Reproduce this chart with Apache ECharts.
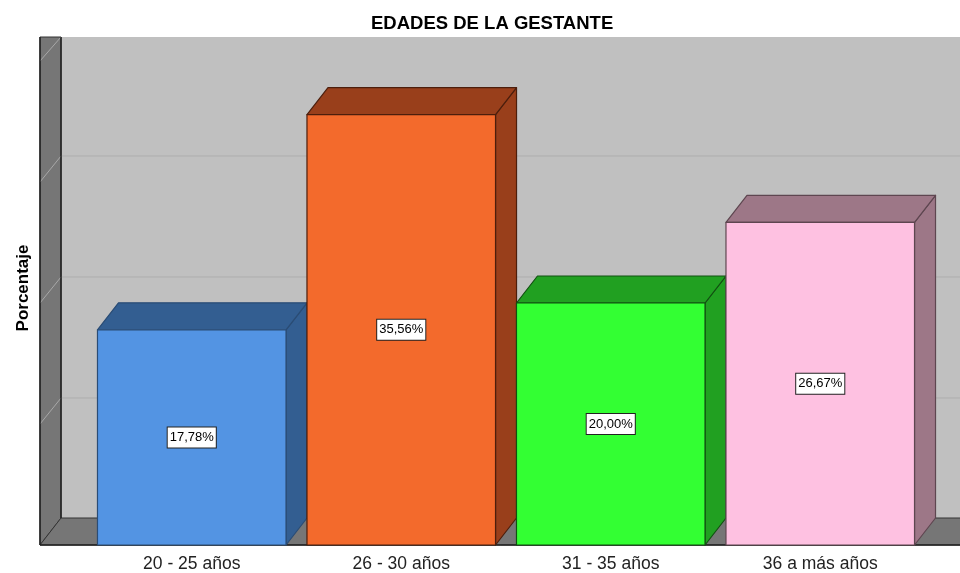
<!DOCTYPE html>
<html>
<head>
<meta charset="utf-8">
<script src="https://cdn.jsdelivr.net/npm/echarts@6/dist/echarts.min.js"></script>
<style>
  html, body { margin: 0; padding: 0; background: #fff; }
  #main { width: 960px; height: 573px; }
</style>
</head>
<body>
<div id="main"></div>
<script>
// datos del gráfico
var categorias = ['20 - 25 años', '26 - 30 años', '31 - 35 años', '36 a más años'];
var porcentajes = [17.78, 35.56, 20.00, 26.67];
var ticksY = [0, 10, 20, 30, 40];

// colores frente / lados (estilo SPSS)
var frente = ['#5394e3', '#f36a2c', '#33ff33', '#fec1e1'];
var lado = ['#335e91', '#993f1b', '#21a021', '#9d7787'];
var borde = ['#2a4c75', '#4c1e0c', '#115011', '#5e4650'];

var DX = 21, DY = 27;   // profundidad 3D
var FUENTE = 'Liberation Sans, Arial, sans-serif';

var myChart = echarts.init(document.getElementById('main'));

function marco(params, api) {
    var cs = params.coordSys;
    var fx0 = cs.x - 47, fx1 = cs.x + cs.width + 35;
    var yb = cs.y + cs.height;
    var bx0 = fx0 + DX, byb = yb - DY;
    var top = cs.y - DY + 3;
    var hijos = [];
    // pared del fondo
    hijos.push({ type: 'rect', shape: { x: bx0, y: top, width: fx1 + 5 - bx0, height: byb - top },
        style: { fill: '#c0c0c0', stroke: null } });
    // pared izquierda
    hijos.push({ type: 'polygon', shape: { points: [[fx0, top], [bx0, top], [bx0, byb], [fx0, yb]] },
        style: { fill: '#767676', stroke: '#333', lineWidth: 1 } });
    // piso
    hijos.push({ type: 'polygon', shape: { points: [[fx0, yb], [bx0, byb], [fx1 + 5, byb], [fx1 + 5, yb]] },
        style: { fill: '#767676', stroke: '#333', lineWidth: 1 } });
    // líneas de cuadrícula
    ticksY.forEach(function (t) {
        if (t === 0) return;
        var p = api.coord([0, t]);
        var yf = p[1];
        var y = Math.max(yf - DY + 1, top);
        if (y > top) {
            hijos.push({ type: 'line', shape: { x1: bx0, y1: y, x2: fx1 + 5, y2: y },
                style: { stroke: '#adadad', lineWidth: 1 } });
        }
        hijos.push({ type: 'line', shape: { x1: bx0, y1: y, x2: fx0, y2: yf },
            style: { stroke: '#a8a8a8', lineWidth: 1 } });
    });
    hijos.push({ type: 'line', shape: { x1: bx0, y1: top, x2: bx0, y2: byb },
        style: { stroke: '#222', lineWidth: 1.5 } });
    hijos.push({ type: 'line', shape: { x1: fx0, y1: top, x2: fx0, y2: yb },
        style: { stroke: '#222', lineWidth: 1.5 } });
    hijos.push({ type: 'line', shape: { x1: fx0, y1: yb, x2: fx1 + 5, y2: yb },
        style: { stroke: '#222', lineWidth: 1.5 } });
    return { type: 'group', children: hijos };
}

function barra3d(params, api) {
    var i = api.value(0), v = api.value(1);
    var base = api.coord([i, 0]);
    var alto = api.coord([i, v]);
    var w = api.size([1, 0])[0] * 0.9;
    var x0 = base[0] - w / 2, x1 = base[0] + w / 2;
    var yb = base[1], yt = alto[1];
    var idx = params.dataIndex;
    var linea = { stroke: borde[idx], lineWidth: 1.2, lineJoin: 'round' };
    return {
        type: 'group',
        children: [
            { type: 'polygon', shape: { points: [[x1, yt], [x1 + DX, yt - DY], [x1 + DX, yb - DY], [x1, yb]] },
              style: Object.assign({ fill: lado[idx] }, linea) },
            { type: 'polygon', shape: { points: [[x0, yt], [x0 + DX, yt - DY], [x1 + DX, yt - DY], [x1, yt]] },
              style: Object.assign({ fill: lado[idx] }, linea) },
            { type: 'rect', shape: { x: x0, y: yt, width: w, height: yb - yt },
              style: Object.assign({ fill: frente[idx] }, linea) },
            { type: 'text', x: base[0], y: (yb + yt) / 2,
              style: { text: v.toFixed(2).replace('.', ',') + '%', align: 'center', verticalAlign: 'middle',
                       fontFamily: FUENTE, fontSize: 13, fill: '#000',
                       backgroundColor: '#fff', borderColor: '#222', borderWidth: 1, padding: [4, 2, 3, 2] } }
        ]
    };
}

myChart.setOption({
    animation: false,
    title: {
        text: 'EDADES DE LA GESTANTE',
        left: 366,
        top: 9,
        textStyle: { fontFamily: FUENTE, fontSize: 18.5, fontWeight: 'bold', color: '#000' }
    },
    graphic: [{
        type: 'text',
        x: 23,
        y: 288,
        rotation: Math.PI / 2,
        style: { text: 'Porcentaje', align: 'center', verticalAlign: 'middle',
                 fontFamily: FUENTE, fontSize: 17, fontWeight: 'bold', fill: '#000' }
    }],
    grid: { left: 87, right: 35, top: 61, bottom: 28 },
    xAxis: {
        type: 'category',
        data: categorias,
        axisLine: { show: false },
        axisTick: { show: false },
        axisLabel: { margin: 10, fontSize: 17.5, color: '#222', fontFamily: FUENTE }
    },
    yAxis: {
        type: 'value',
        min: 0,
        max: 40,
        interval: 10,
        axisLabel: { show: false },
        axisLine: { show: false },
        axisTick: { show: false },
        splitLine: { show: false }
    },
    series: [
        {
            type: 'custom',
            renderItem: marco,
            data: [[0, 0]],
            z: 1,
            silent: true
        },
        {
            type: 'custom',
            renderItem: barra3d,
            encode: { x: 0, y: 1 },
            data: porcentajes.map(function (v, i) { return [i, v]; }),
            z: 5
        }
    ]
});
</script>
</body>
</html>
